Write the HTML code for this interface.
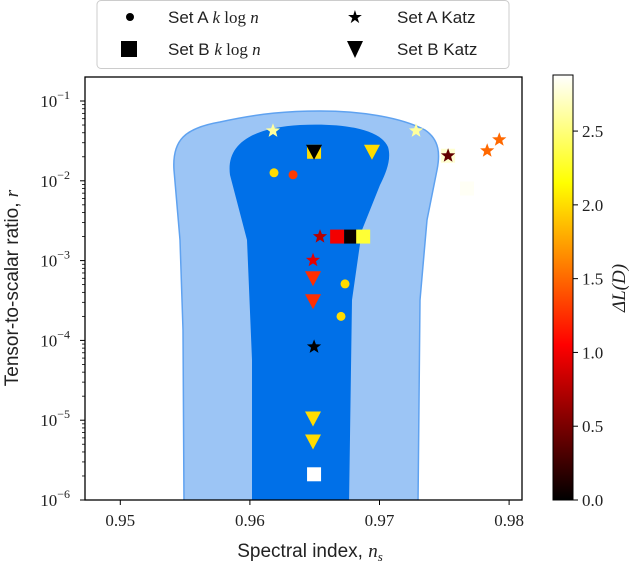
<!DOCTYPE html>
<html><head><meta charset="utf-8">
<style>
html,body{margin:0;padding:0;background:#fff;}
svg{display:block;font-family:"Liberation Sans",sans-serif;}
.tk{font-family:"Liberation Serif",serif;font-size:17px;fill:#222;}
</style></head>
<body>
<svg id="chart" width="640" height="571" viewBox="0 0 640 571" xmlns="http://www.w3.org/2000/svg">
<defs><clipPath id="pc"><rect x="85" y="77" width="437" height="423"/></clipPath>
<linearGradient id="cbg" x1="0" y1="1" x2="0" y2="0">
<stop offset="0" stop-color="#000"/><stop offset="0.365" stop-color="#f00"/><stop offset="0.746" stop-color="#ff0"/><stop offset="1" stop-color="#fff"/>
</linearGradient></defs>
<g clip-path="url(#pc)">
<path fill="#9cc5f5" stroke="#5fa2f0" stroke-width="1.5"
 d="M184,505 L183,330 L180,240 L174,170 C172,140 185,128 220,122 C260,113 290,111 320,111 C360,111 400,117 425,130 C440,140 440,155 437,170 L427,220 L420,300 L418,505 Z"/>
<path fill="#0070e8"
 d="M252,505 L252,360 L247,240 L230,175 C226,145 250,128 300,125 C340,123 380,128 388,147 C392,160 385,175 380,185 L362,230 L352,300 L349,505 Z"/>
</g>
<g id="marks"></g>
<rect x="85" y="77" width="437" height="423" fill="none" stroke="#000" stroke-width="1.3"/>
<g id="axes"></g>
<text x="18" y="288" transform="rotate(-90 18 288)" text-anchor="middle" font-size="19" fill="#222">Tensor-to-scalar ratio, <tspan font-family="Liberation Serif" font-style="italic">r</tspan></text>
<text x="310" y="557" text-anchor="middle" font-size="19" fill="#222">Spectral index, <tspan font-family="Liberation Serif" font-style="italic">n</tspan><tspan font-family="Liberation Serif" font-style="italic" font-size="13" dy="4">s</tspan></text>
<rect x="553" y="75" width="20" height="425" fill="url(#cbg)" stroke="#000" stroke-width="1"/>
<text x="625" y="288" transform="rotate(-90 625 288)" text-anchor="middle" font-size="19" font-family="Liberation Serif" font-style="italic" fill="#222">ΔL(D)</text>
<g>
<rect x="97" y="0.5" width="412" height="68" rx="4" fill="#fff" stroke="#ccc"/>
<circle cx="130" cy="17" r="4" fill="#000"/>
<text x="168" y="23" font-size="17" fill="#222">Set A <tspan font-family="Liberation Serif" font-style="italic">k</tspan><tspan font-family="Liberation Serif"> log </tspan><tspan font-family="Liberation Serif" font-style="italic">n</tspan></text>
<rect x="121" y="41" width="16" height="16" fill="#000"/>
<text x="168" y="55" font-size="17" fill="#222">Set B <tspan font-family="Liberation Serif" font-style="italic">k</tspan><tspan font-family="Liberation Serif"> log </tspan><tspan font-family="Liberation Serif" font-style="italic">n</tspan></text>
<text x="355" y="23" font-size="18" text-anchor="middle" fill="#000">★</text>
<path d="M347,41 L363,41 L355,58 Z" fill="#000"/>
<text x="397" y="23" font-size="17" fill="#222">Set A Katz</text>
<text x="397" y="55" font-size="17" fill="#222">Set B Katz</text>
</g>
</svg>
<script>
// ---- data ----
const xTicks = [0.95, 0.96, 0.97, 0.98];
const yTickExps = [-1, -2, -3, -4, -5, -6];
const cbTicks = [0.0, 0.5, 1.0, 1.5, 2.0, 2.5];
// Set A k log n (circles)
const aKlogN_ns = [0.96186, 0.96333, 0.96734, 0.96703];
const aKlogN_r  = [0.0126, 0.0119, 5.1e-4, 2.0e-4];
const aKlogN_dL = [2.0, 1.3, 2.0, 2.0];
// Set B k log n (squares)
const bKlogN_ns = [0.96495, 0.96673, 0.96781, 0.96874, 0.97675, 0.97529, 0.96495];
const bKlogN_r  = [0.0231, 2.0e-3, 2.0e-3, 2.0e-3, 8.0e-3, 0.0206, 2.1e-6];
const bKlogN_dL = [2.0, 1.0, 0.05, 2.3, 2.85, 2.75, 2.88];
// Set A Katz (stars)
const aKatz_ns = [0.96178, 0.97282, 0.97529, 0.97831, 0.97924, 0.96541, 0.96487, 0.96495];
const aKatz_r  = [0.0423, 0.0423, 0.0206, 0.0238, 0.0327, 2.0e-3, 1.01e-3, 8.3e-5];
const aKatz_dL = [2.6, 2.6, 0.4, 1.5, 1.5, 0.75, 0.95, 0.0];
// Set B Katz (triangles)
const bKatz_ns = [0.96495, 0.96942, 0.96487, 0.96487, 0.96487, 0.96487];
const bKatz_r  = [0.0231, 0.0231, 6.0e-4, 3.1e-4, 1.05e-5, 5.4e-6];
const bKatz_dL = [0.0, 2.0, 1.25, 1.25, 2.0, 2.0];

// ---- scales ----
const NS = "http://www.w3.org/2000/svg";
function xs(v){ return 120.3 + (v - 0.95) * 12960; }
function ys(r){ return 101 + (-1 - Math.log10(r)) * 79.8; }
const CB_MAX = 2.88;
function cbY(v){ return 500 - v / CB_MAX * 425; }
function hot(v){
  const t = Math.max(0, Math.min(1, v / CB_MAX));
  const r = Math.min(1, t / 0.365), g = Math.max(0, Math.min(1, (t - 0.365) / 0.381)), b = Math.max(0, Math.min(1, (t - 0.746) / 0.254));
  return `rgb(${Math.round(r*255)},${Math.round(g*255)},${Math.round(b*255)})`;
}
function mk(tag, attrs, parent){ const e = document.createElementNS(NS, tag); for (const k in attrs) e.setAttribute(k, attrs[k]); parent.appendChild(e); return e; }
function starPath(cx, cy, R){
  let d = ""; const r = R * 0.42;
  for (let i = 0; i < 10; i++){ const a = -Math.PI/2 + i * Math.PI/5; const rr = i % 2 ? r : R;
    d += (i ? "L" : "M") + (cx + rr*Math.cos(a)).toFixed(1) + "," + (cy + rr*Math.sin(a)).toFixed(1); }
  return d + "Z";
}
const marks = document.getElementById('marks');
const axes = document.getElementById('axes');

aKlogN_ns.forEach((v, i) => {
  const e = mk('circle', {cx: xs(v), cy: ys(aKlogN_r[i]), r: 4.5, fill: hot(aKlogN_dL[i])}, marks);
  
  
});
bKlogN_ns.forEach((v, i) => {
  const e = mk('rect', {x: xs(v) - 7, y: ys(bKlogN_r[i]) - 7, width: 14, height: 14, fill: hot(bKlogN_dL[i])}, marks);
  
  
});
aKatz_ns.forEach((v, i) => {
  const e = mk('path', {d: starPath(xs(v), ys(aKatz_r[i]), 7.5), fill: hot(aKatz_dL[i])}, marks);
  
  
});
bKatz_ns.forEach((v, i) => {
  const cx = xs(v), cy = ys(bKatz_r[i]);
  const e = mk('path', {d: `M${cx-8},${cy-7} L${cx+8},${cy-7} L${cx},${cy+8} Z`, fill: hot(bKatz_dL[i])}, marks);
  
  
});

// x ticks
xTicks.forEach(v => {
  const x = xs(v);
  mk('line', {x1: x, x2: x, y1: 500, y2: 505, stroke: '#000'}, axes);
  const t = mk('text', {x: x, y: 526, 'text-anchor': 'middle', class: 'tk'}, axes);
  t.textContent = v.toFixed(2);
  
  
});
// y ticks (major + minor)
yTickExps.forEach(p => {
  const y = ys(Math.pow(10, p));
  mk('line', {x1: 80, x2: 85, y1: y, y2: y, stroke: '#000'}, axes);
  const t = mk('text', {x: 70, y: y + 6, 'text-anchor': 'end', class: 'tk'}, axes);
  t.innerHTML = '10<tspan font-size="12" dy="-8">−' + (-p) + '</tspan>';
  
  
  if (p > -6) for (let m = 2; m <= 9; m++){
    const ym = ys(m * Math.pow(10, p - 1));
    mk('line', {x1: 82, x2: 85, y1: ym, y2: ym, stroke: '#000', 'stroke-width': 0.8}, axes);
  }
});
for (let m = 2; m <= 9; m++){ const ym = ys(m * 0.1); if (ym >= 77) mk('line', {x1: 82, x2: 85, y1: ym, y2: ym, stroke: '#000', 'stroke-width': 0.8}, axes); }
// colorbar ticks
cbTicks.forEach(v => {
  const y = cbY(v);
  mk('line', {x1: 573, x2: 578, y1: y, y2: y, stroke: '#000'}, axes);
  const t = mk('text', {x: 582, y: y + 6, class: 'tk'}, axes);
  t.textContent = v.toFixed(1);
  
  
});
</script>
</body></html>
